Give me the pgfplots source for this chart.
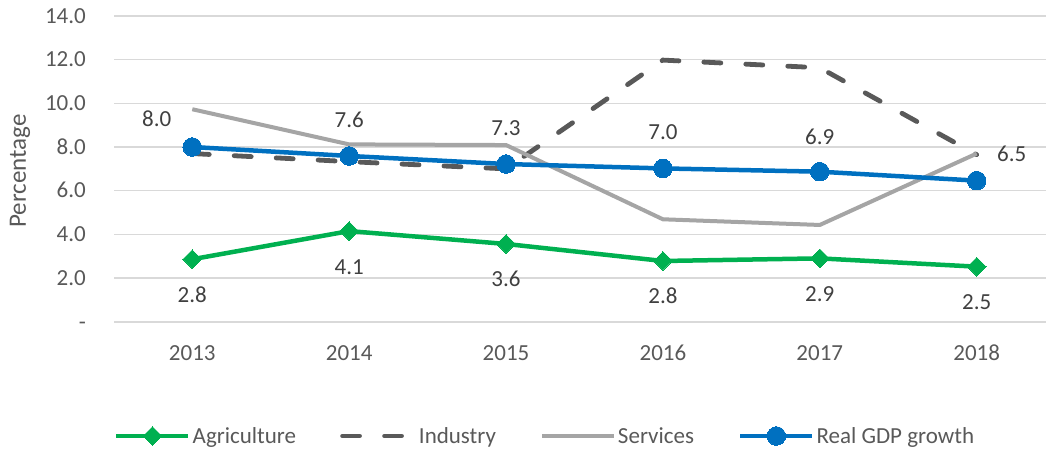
\documentclass[border=0pt]{standalone}
\usepackage{fontspec}
\setmainfont{Carlito}
\usepackage{pgfplots}
\usepackage{pgfplotstable}
\pgfplotsset{compat=1.18}
\definecolor{agri}{HTML}{00B050}
\definecolor{indu}{HTML}{595959}
\definecolor{serv}{HTML}{A5A5A5}
\definecolor{gdp}{HTML}{0070C0}
\definecolor{gridc}{HTML}{D9D9D9}
\definecolor{txt}{HTML}{595959}
\definecolor{lbl}{HTML}{404040}

\pgfplotstableread{
x y lab dx dy
0 2.86 2.8 0 -43
1 4.15 4.1 0 -43
2 3.56 3.6 0 -43
3 2.78 2.8 0 -43
4 2.90 2.9 0 -43
5 2.52 2.5 0 -43
}\agri
\pgfplotstableread{
x y
0 7.70
1 7.33
2 7.00
3 11.98
4 11.63
5 7.65
}\indu
\pgfplotstableread{
x y
0 9.73
1 8.12
2 8.09
3 4.69
4 4.43
5 7.70
}\serv
\pgfplotstableread{
x y lab dx dy
0 8.00 8.0 -35.6 20.7
1 7.59 7.6 0 28.5
2 7.22 7.3 0 28.8
3 7.02 7.0 0 28.5
4 6.87 6.9 0 27.5
5 6.46 6.5 35 19
}\gdp

\begin{document}
\begin{tikzpicture}
\useasboundingbox (0,0) rectangle (1046bp,450bp);
\begin{axis}[
  at={(114bp,128.3bp)}, anchor=south west,
  scale only axis, width=932bp, height=305.7bp,
  font=\fontsize{23bp}{27bp}\selectfont,
  xmin=-0.499, xmax=5.442, ymin=0, ymax=14,
  axis line style={draw=none},
  xmajorgrids=false, ymajorgrids=true,
  grid style={draw=gridc, line width=1.3bp},
  major tick length=0pt,
  xtick={0,1,2,3,4,5},
  xticklabels={2013,2014,2015,2016,2017,2018},
  ytick={0,2,4,6,8,10,12,14},
  yticklabels={-\hspace{11bp},2.0,4.0,6.0,8.0,10.0,12.0,14.0},
  xticklabel style={anchor=base, inner sep=0pt, yshift=-38.3bp, text=txt},
  yticklabel style={anchor=base east, inner sep=0pt, xshift=-28bp, yshift=-7.3bp, text=txt},
  ylabel={Percentage},
  every axis y label/.style={at={(rel axis cs:-0.1009,0.493)}, rotate=90, anchor=center, text=txt,
    font=\fontsize{25bp}{29bp}\selectfont},
  clip=false,
  legend columns=4,
  legend style={at={(rel axis cs:-0.0032,-0.3739)}, anchor=west, draw=none, fill=none,
    font=\fontsize{23bp}{27bp}\selectfont, text=txt,
    /tikz/every even column/.append style={column sep=42bp},
    nodes={inner sep=2bp}},
  legend cell align=left,
  legend image code/.code={
    \draw[mark repeat=2, mark phase=2] plot coordinates {(0bp,0bp) (36bp,0bp) (72bp,0bp)};
  },
]
\draw[gridc, line width=2bp] (rel axis cs:0,0) -- (rel axis cs:1,0);

\addplot[agri, line width=4.5bp, mark=square*, mark size=6.6bp, mark options={solid, rotate=45, line width=0bp},
  point meta=explicit symbolic,
  nodes near coords,
  visualization depends on={\thisrow{dx}\as\dx},
  visualization depends on={\thisrow{dy}\as\dy},
  every node near coord/.append style={anchor=base, text=lbl, xshift=\dx bp, yshift=\dy bp, inner sep=0pt,
    font=\fontsize{23bp}{27bp}\selectfont}]
  table[x=x, y=y, meta=lab] {\agri};
\addlegendentry{Agriculture}

\addplot[indu, line width=4.8bp, dash pattern=on 17bp off 25bp, line cap=round, mark=none]
  table[x=x, y=y] {\indu};
\addlegendentry{Industry}

\addplot[serv, line width=4bp, mark=none]
  table[x=x, y=y] {\serv};
\addlegendentry{Services}

\addplot[gdp, line width=4.5bp, mark=*, mark size=9.3bp, mark options={solid, line width=0bp},
  point meta=explicit symbolic,
  nodes near coords,
  visualization depends on={\thisrow{dx}\as\dx},
  visualization depends on={\thisrow{dy}\as\dy},
  every node near coord/.append style={anchor=base, text=lbl, xshift=\dx bp, yshift=\dy bp, inner sep=0pt,
    font=\fontsize{23bp}{27bp}\selectfont}]
  table[x=x, y=y, meta=lab] {\gdp};
\addlegendentry{Real GDP growth}
\end{axis}
\end{tikzpicture}
\end{document}
